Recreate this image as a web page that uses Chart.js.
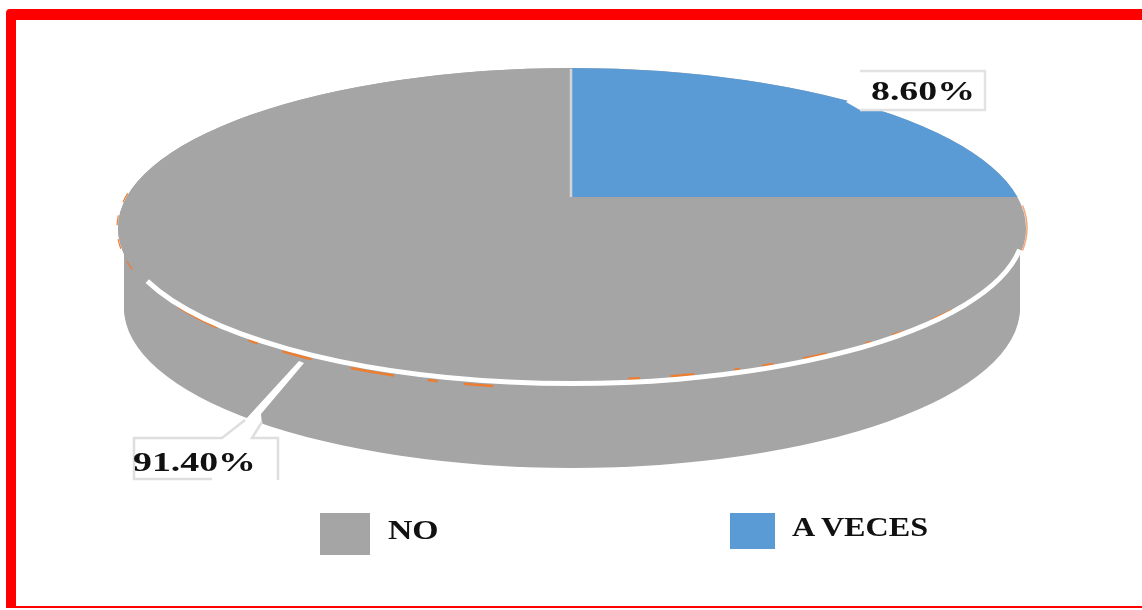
<!DOCTYPE html>
<html>
<head>
<meta charset="utf-8">
<script src="https://cdn.jsdelivr.net/npm/chart.js@4"></script>
<style>
  html, body { margin: 0; background: #fff; overflow: hidden; }
  #frame { position: absolute; left: 6px; top: 9px; width: 1200px; height: 586px; border: solid #ff0000; border-width: 11px 11px 2px 10px; border-radius: 4px 0 0 0; }
  #wrap { position: absolute; left: 0; top: 0; width: 1142px; height: 610px; }
  .box { position: absolute; }
  .txt { position: absolute; font: bold 27px "Liberation Serif", serif; color: #111; transform-origin: left top; white-space: nowrap; }
</style>
</head>
<body>
<div id="frame"></div>
<div id="wrap"><canvas id="pie" width="1142" height="610"></canvas></div>
<script>
  var categories = ['NO', 'A VECES'];
  // the wedges in the picture are drawn at about 3/4 and 1/4, whatever their printed labels say
  var drawnShares = [75, 25];
  var printedLabels = ['91.40%', '8.60%'];
  var colors = ['#a5a5a5', '#5b9bd5'];

  var RX = 454, RY = 160, DEPTH = 80, CUT_Y = 197;

  // legend is plain html, the two items are not the same size in the picture
  var legendPos = [
    { x: 320, y: 513, w: 50, h: 42, tx: 388, ty: 515, sx: 1.25 },
    { x: 730, y: 513, w: 45, h: 36, tx: 792, ty: 512, sx: 1.19 }
  ];
  categories.forEach(function (name, i) {
    var p = legendPos[i];
    var b = document.createElement('div');
    b.className = 'box';
    b.style.cssText = 'left:' + p.x + 'px;top:' + p.y + 'px;width:' + p.w + 'px;height:' + p.h + 'px;background:' + colors[i];
    document.body.appendChild(b);
    var t = document.createElement('div');
    t.className = 'txt';
    t.textContent = name;
    t.style.left = p.tx + 'px';
    t.style.top = p.ty + 'px';
    t.style.transform = 'scaleX(' + p.sx + ')';
    document.body.appendChild(t);
  });

  // squash the circle of the arc element into the ellipse of the picture
  function squash(ctx, el, dy, rx, ry) {
    ctx.translate(el.x, el.y + dy);
    ctx.scale(rx / el.outerRadius, ry / el.outerRadius);
    ctx.translate(-el.x, -el.y);
  }

  function disc(ctx, el, dy, rx, ry, color) {
    ctx.save();
    squash(ctx, el, dy, rx, ry);
    ctx.beginPath();
    ctx.arc(el.x, el.y, el.outerRadius, 0, Math.PI * 2);
    ctx.fillStyle = color;
    ctx.fill();
    ctx.restore();
  }

  function rim(ctx, el, rx, ry, from, to, color, width, dash) {
    ctx.save();
    ctx.save();
    squash(ctx, el, 0, rx, ry);
    ctx.beginPath();
    ctx.arc(el.x, el.y, el.outerRadius, from * Math.PI / 180, to * Math.PI / 180);
    ctx.restore();
    ctx.strokeStyle = color;
    ctx.lineWidth = width;
    if (dash) ctx.setLineDash(dash);
    ctx.stroke();
    ctx.restore();
  }

  function poly(ctx, pts, fill, stroke, width) {
    ctx.beginPath();
    pts.forEach(function (p, i) { if (i) ctx.lineTo(p[0], p[1]); else ctx.moveTo(p[0], p[1]); });
    if (fill) { ctx.fillStyle = fill; ctx.fill(); }
    if (stroke) { ctx.strokeStyle = stroke; ctx.lineWidth = width; ctx.stroke(); }
  }

  function label(ctx, text, x, y, sx) {
    ctx.save();
    ctx.translate(x, y);
    ctx.scale(sx, 1);
    ctx.font = 'bold 27px "Liberation Serif", serif';
    ctx.fillStyle = '#111';
    ctx.textBaseline = 'alphabetic';
    ctx.fillText(text, 0, 0);
    ctx.restore();
  }

  var tiltPlugin = {
    id: 'tilt',
    beforeDatasetDraw: function (chart) {
      var ctx = chart.ctx;
      var arcs = chart.getDatasetMeta(0).data;
      var grey = arcs[0], blue = arcs[1];

      // side wall
      for (var d = 4; d <= DEPTH; d += 2) {
        disc(ctx, grey, d, RX - 6, RY, colors[0]);
      }
      disc(ctx, grey, 0, RX, RY, colors[0]);

      // top face
      ctx.save();
      squash(ctx, grey, 0, RX, RY);
      grey.draw(ctx);
      ctx.restore();

      ctx.save();
      ctx.beginPath();
      ctx.rect(blue.x, 0, chart.width, CUT_Y);
      ctx.clip();
      squash(ctx, blue, 0, RX, RY);
      blue.draw(ctx);
      ctx.restore();

      // pale seam on the left side of the blue wedge
      poly(ctx, [[blue.x - 1, 69], [blue.x - 1, CUT_Y]], null, '#d4d4d4', 2.5);

      // orange scraps along the edge, then the crack between top face and wall
      rim(ctx, grey, RX - 2, RY - 8, 12, 85, '#ed7d31', 2.5, [12, 22, 6, 40, 24, 30]);
      rim(ctx, grey, RX - 2, RY + 0.5, 100, 152, '#ed7d31', 2.5, [30, 26, 10, 34, 44, 40]);
      rim(ctx, grey, RX + 1, RY + 1, -8, 8, '#f4a878', 1.5);
      rim(ctx, grey, RX + 1, RY + 1, 165, 195, '#ed7d31', 1.2, [10, 14]);
      rim(ctx, grey, RX - 2, RY - 4.5, 8, 160, '#ffffff', 5);

      // gap in the wall for the 91.40% leader
      poly(ctx, [[299, 361], [304, 363], [261, 414], [262, 425], [244, 425], [245, 420]], '#ffffff');

      // callouts
      poly(ctx, [[134, 438], [278, 438], [278, 480], [134, 480]], '#ffffff');
      poly(ctx, [[245, 420], [222, 438], [134, 438], [134, 479], [212, 479]], null, '#dedede', 2.5);
      poly(ctx, [[262, 422], [252, 438], [278, 438], [278, 480]], null, '#dedede', 2.5);
      poly(ctx, [[860, 94], [846, 102], [860, 110]], '#ffffff');
      poly(ctx, [[860, 71], [985, 71], [985, 110], [860, 110]], '#ffffff', '#e2e2e2', 2.5);

      label(ctx, printedLabels[0], 133, 471, 1.4);
      label(ctx, printedLabels[1], 871, 100, 1.4);
      return false;
    }
  };

  new Chart(document.getElementById('pie').getContext('2d'), {
    type: 'pie',
    data: {
      labels: categories,
      datasets: [{ data: drawnShares, backgroundColor: colors, borderWidth: 0 }]
    },
    options: {
      responsive: false,
      animation: false,
      rotation: 90,
      layout: { padding: { left: 2, right: 0, top: 0, bottom: 154 } },
      plugins: { legend: { display: false }, tooltip: { enabled: false } }
    },
    plugins: [tiltPlugin]
  });
</script>
</body>
</html>
